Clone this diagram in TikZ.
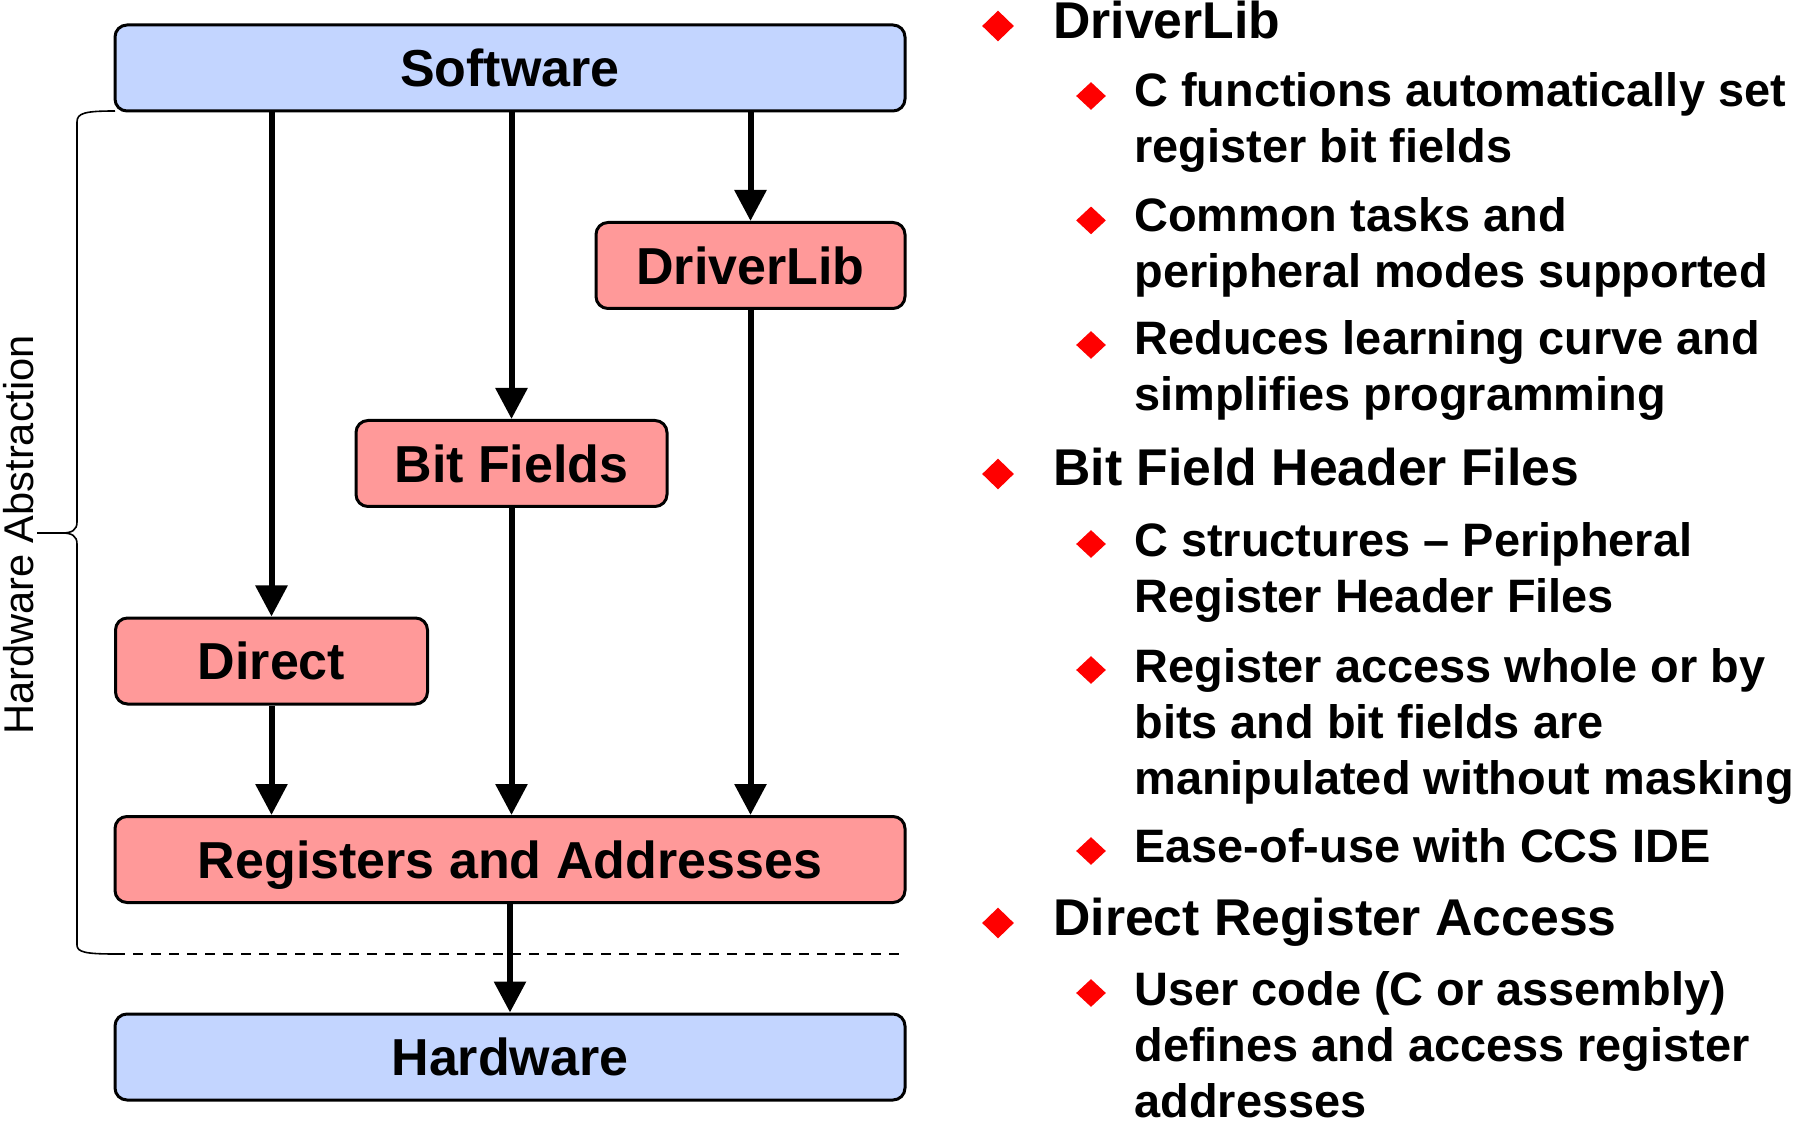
\documentclass[tikz,border=0pt]{standalone}
\usepackage{fontspec}
\setmainfont{Liberation Sans}
\usetikzlibrary{arrows.meta,shapes.geometric}
\definecolor{boxblue}{RGB}{195,213,255}
\definecolor{boxpink}{RGB}{255,153,153}
\begin{document}
\begin{tikzpicture}[x=0.5pt,y=-0.5pt,
  box/.style={draw=black,line width=1.5pt,rounded corners=6pt,minimum height=43pt,inner sep=0pt,
     font=\fontsize{26}{31}\selectfont\bfseries,text height=18.6pt,text depth=0pt},
  bluebox/.style={box,fill=boxblue},
  pinkbox/.style={box,fill=boxpink},
  arr/.style={line width=3pt,-{Triangle[length=15.5pt,width=15.5pt]}},
  bone/.style={anchor=base west,inner sep=0pt,align=left,font=\fontsize{25.85}{28}\selectfont\bfseries},
  btwo/.style={anchor=base west,inner sep=0pt,align=left,font=\fontsize{23.45}{28}\selectfont\bfseries},
  diaone/.style={shape=diamond,fill=red,draw=none,inner sep=0pt,minimum width=16pt,minimum height=15.5pt},
  diatwo/.style={shape=diamond,fill=red,draw=none,inner sep=0pt,minimum width=15pt,minimum height=14pt},
  bracestyle/.style={line width=0.8pt},
  dashstyle/.style={line width=1pt,dash pattern=on 5pt off 4pt}
]
\useasboundingbox (0,0) rectangle (1793,1122);

% boxes
\node[bluebox,minimum width=395pt] (sw) at (510,68) {Software};
\node[pinkbox,minimum width=154.5pt] (dl) at (750.5,265.5) {DriverLib};
\node[pinkbox,minimum width=155.5pt] (bf) at (511.5,463.5) {Bit Fields};
\node[pinkbox,minimum width=156pt] (dir) at (271.5,661) {Direct};
\node[pinkbox,minimum width=395pt] (reg) at (510,859.5) {Registers and Addresses};
\node[bluebox,minimum width=395pt] (hw) at (510,1057) {Hardware};

% arrows
\draw[arr] (dir.north |- sw.south) -- (dir.north);
\draw[arr] (bf.north |- sw.south) -- (bf.north);
\draw[arr] (dl.north |- sw.south) -- (dl.north);
\draw[arr] (dir.south) -- (dir.south |- reg.north);
\draw[arr] (bf.south) -- (bf.south |- reg.north);
\draw[arr] (dl.south) -- (dl.south |- reg.north);
\draw[arr] (reg.south) -- (hw.north);

% brace and dashed boundary
\coordinate (bt) at (115,111);
\coordinate (bb) at (115,954);
\coordinate (be) at (905,954);
\draw[bracestyle] (bt) .. controls (85,111) and (77,113) .. (77,122) -- (77,522)
  .. controls (77,530) and (72,533) .. (62,533) -- (37,533)
  (62,533) .. controls (72,533) and (77,536) .. (77,544) -- (77,945)
  .. controls (77,952) and (85,954) .. (bb);
\draw[dashstyle] (bb) -- (be);
\node[rotate=90,inner sep=0pt,font=\fontsize{20.8}{24}\selectfont,text height=15pt,text depth=0pt] (ha) at (18,535) {Hardware Abstraction};

% bullets (base anchor = baseline of the last line)
\node[diaone] (d1) at (998,26) {};
\node[bone] (t1) at (1053,38.6) {DriverLib};
\node[diatwo] (d11) at (1091,96) {};
\node[btwo] (t11) at (1134,162.5) {C functions automatically set\\register bit fields};
\node[diatwo] (d12) at (1091,220.4) {};
\node[btwo] (t12) at (1134,287.5) {Common tasks and\\peripheral modes supported};
\node[diatwo] (d13) at (1091,345) {};
\node[btwo] (t13) at (1134,410.7) {Reduces learning curve and\\simplifies programming};

\node[diaone] (d2) at (998,474) {};
\node[bone] (t2) at (1053,486) {Bit Field Header Files};
\node[diatwo] (d21) at (1091,544) {};
\node[btwo] (t21) at (1134,612.4) {C structures – Peripheral\\Register Header Files};
\node[diatwo] (d22) at (1091,670) {};
\node[btwo] (t22) at (1134,794) {Register access whole or by\\bits and bit fields are\\manipulated without masking};
\node[diatwo] (d23) at (1091,851) {};
\node[btwo] (t23) at (1134,862) {Ease-of-use with CCS IDE};

\node[diaone] (d3) at (998,923) {};
\node[bone] (t3) at (1053,935) {Direct Register Access};
\node[diatwo] (d31) at (1091,993) {};
\node[btwo] (t31) at (1134,1117) {User code (C or assembly)\\defines and access register\\addresses};
\end{tikzpicture}
\end{document}
